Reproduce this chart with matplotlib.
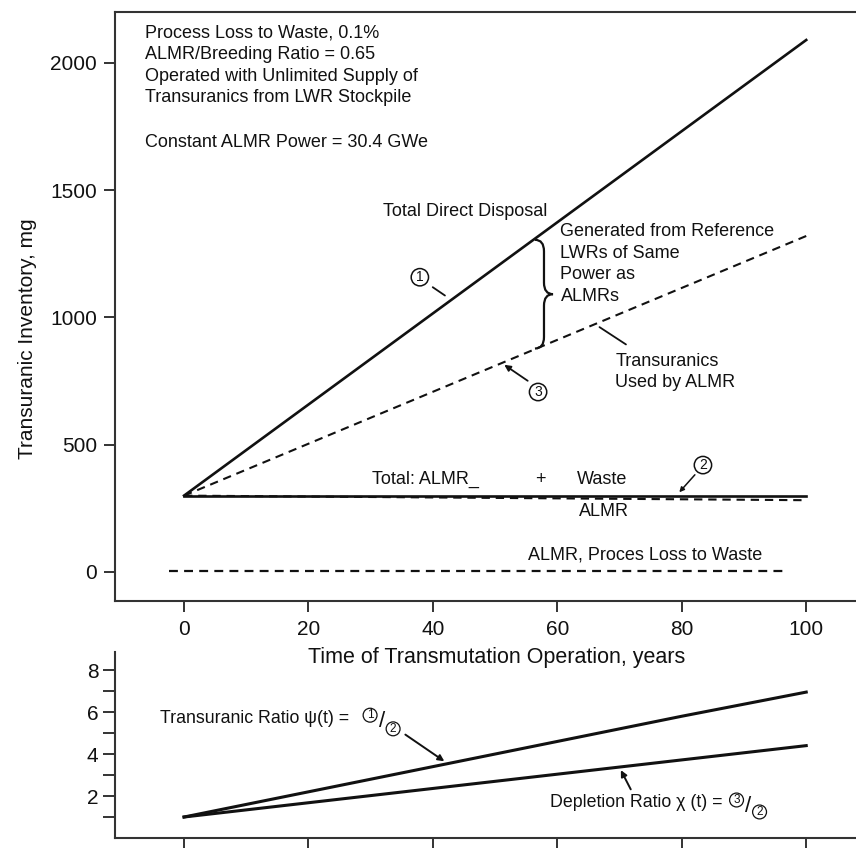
import numpy as np
import matplotlib
matplotlib.use('Agg')
import matplotlib.pyplot as plt
from matplotlib.path import Path
from matplotlib.patches import PathPatch

plt.rcParams['font.family'] = ['Liberation Sans', 'DejaVu Sans']

# data
years = [0, 100]
direct_disposal = [300, 2090]      # (1) total direct disposal
almr_plus_waste = [300, 300]       # (2) total ALMR + waste
used_by_almr = [300, 1320]         # (3) transuranics used by ALMR
almr_only = [300, 282]
loss_years = [-2.5, 97]
loss_to_waste = [5, 5]

ratio_years = [0, 20, 40, 60, 80, 100]
psi_ratio = [1.0, 2.2, 3.4, 4.6, 5.8, 6.95]
chi_ratio = [1.0, 1.68, 2.36, 3.04, 3.72, 4.4]

x_ticks = [0, 20, 40, 60, 80, 100]
y_ticks = [0, 500, 1000, 1500, 2000]

W, H = 856, 848
fig = plt.figure(figsize=(W / 100, H / 100), dpi=100)
ink = '#111111'
spine_col = '#333333'
dash = (0, (4, 2.8))

# ratio panel first, so the main panel's x label sits on top of it
ax2 = fig.add_axes([115 / W, 1 - 838 / H, (856 - 115) / W, (838 - 652) / H])
ax2.patch.set_visible(False)

# main panel
ax = fig.add_axes([115 / W, 1 - 601 / H, (856 - 115) / W, (601 - 12) / H])
ax.patch.set_visible(False)
ax.plot(years, direct_disposal, color=ink, lw=1.9)
ax.plot(years, almr_plus_waste, color=ink, lw=1.9)
ax.plot(years, used_by_almr, color=ink, lw=1.5, linestyle=dash)
ax.plot(years, almr_only, color=ink, lw=1.5, linestyle=dash)
ax.plot(loss_years, loss_to_waste, color=ink, lw=1.6, linestyle=dash)

ax.set_xlim(-11.1, 108.0)
ax.set_ylim(-114, 2200)
ax.set_xticks(x_ticks)
ax.set_yticks(y_ticks)
ax.spines['right'].set_visible(False)
for s in ['left', 'top', 'bottom']:
    ax.spines[s].set_linewidth(1.5)
    ax.spines[s].set_color(spine_col)
ax.tick_params(axis='both', direction='out', length=8, width=1.4,
               color=spine_col, labelsize=15, labelcolor=ink)
ax.tick_params(axis='x', pad=6)
ax.tick_params(axis='y', pad=5)
ax.set_ylabel('Transuranic Inventory, mg', fontsize=15, color=ink)
ax.yaxis.set_label_coords(-0.105, 0.445)
ax.set_xlabel('Time of Transmutation Operation, years', fontsize=15.5, color=ink)
ax.xaxis.set_label_coords(0.515, -0.078)

tk = dict(fontsize=13, color=ink, va='center', ha='left')
ax.text(-6.3, 2118, 'Process Loss to Waste, 0.1%', **tk)
ax.text(-6.3, 2032, 'ALMR/Breeding Ratio = 0.65', **tk)
ax.text(-6.3, 1947, 'Operated with Unlimited Supply of', **tk)
ax.text(-6.3, 1863, 'Transuranics from LWR Stockpile', **tk)
ax.text(-6.3, 1686, 'Constant ALMR Power = 30.4 GWe', **tk)

ax.text(32.0, 1415, 'Total Direct Disposal', **tk)
ax.text(60.5, 1336, 'Generated from Reference', **tk)
ax.text(60.5, 1252, 'LWRs of Same', **tk)
ax.text(60.5, 1167, 'Power as', **tk)
ax.text(60.5, 1083, 'ALMRs', **tk)
ax.text(69.3, 825, 'Transuranics', **tk)
ax.text(69.3, 743, 'Used by ALMR', **tk)
ax.text(30.2, 362, 'Total: ALMR_', **tk)
ax.text(56.4, 362, '+', **tk)
ax.text(63.2, 362, 'Waste', **tk)
ax.text(63.4, 236, 'ALMR', **tk)
ax.text(55.3, 67, 'ALMR, Proces Loss to Waste', **tk)

circ = dict(boxstyle='circle,pad=0.12', fc='white', ec=ink, lw=1.1)
ax.text(37.9, 1158, '1', fontsize=10, ha='center', va='center', color=ink, bbox=circ)
ax.text(56.9, 707, '3', fontsize=10, ha='center', va='center', color=ink, bbox=circ)
ax.text(83.4, 420, '2', fontsize=10, ha='center', va='center', color=ink, bbox=circ)

ax.annotate('', xy=(42.3, 1080), xytext=(39.6, 1125),
            arrowprops=dict(arrowstyle='-', color=ink, lw=1.3))
ax.annotate('', xy=(51.1, 820), xytext=(55.6, 745),
            arrowprops=dict(arrowstyle='-|>', color=ink, lw=1.3,
                            mutation_scale=9))
ax.annotate('', xy=(79.3, 305), xytext=(82.4, 390),
            arrowprops=dict(arrowstyle='-|>', color=ink, lw=1.1,
                            mutation_scale=7))
ax.annotate('', xy=(66.4, 968), xytext=(71.4, 888),
            arrowprops=dict(arrowstyle='-', color=ink, lw=1.3))

# curly brace between (1) and (3)
bx, tip, top, bot, r = 56.4, 59.3, 1305, 878, 45
mid = (top + bot) / 2
xm = (bx + tip) / 2
verts = [(bx, top), (xm, top), (xm, top - r),
         (xm, mid + r),
         (xm, mid), (tip, mid),
         (xm, mid), (xm, mid - r),
         (xm, bot + r),
         (xm, bot), (bx, bot)]
codes = [Path.MOVETO, Path.CURVE3, Path.CURVE3,
         Path.LINETO,
         Path.CURVE3, Path.CURVE3,
         Path.CURVE3, Path.CURVE3,
         Path.LINETO,
         Path.CURVE3, Path.CURVE3]
ax.add_patch(PathPatch(Path(verts, codes), fc='none', ec=ink, lw=1.6))

# ratio panel content
ax2.plot(ratio_years, psi_ratio, color=ink, lw=2.2)
ax2.plot(ratio_years, chi_ratio, color=ink, lw=2.2)
ax2.set_xlim(-11.1, 108.0)
ax2.set_ylim(0, 8.86)
ax2.set_xticks(x_ticks)
ax2.set_xticklabels([])
ax2.set_yticks([1, 2, 3, 4, 5, 6, 7, 8])
ax2.set_yticklabels(['', '2', '', '4', '', '6', '', '8'])
ax2.spines['right'].set_visible(False)
ax2.spines['top'].set_visible(False)
for s in ['left', 'bottom']:
    ax2.spines[s].set_linewidth(1.5)
    ax2.spines[s].set_color(spine_col)
ax2.tick_params(axis='both', direction='out', length=9, width=1.4,
                color=spine_col, labelsize=15, labelcolor=ink, pad=3)

lk = dict(fontsize=12.8, color=ink, va='center', ha='left')
ax2.text(-3.9, 5.67, 'Transuranic Ratio \u03c8(t) = ', **lk)
c2 = dict(boxstyle='circle,pad=0.08', fc='white', ec=ink, lw=0.9)
ax2.text(29.9, 5.85, '1', fontsize=8.5, ha='center', va='center', color=ink, bbox=c2)
ax2.text(31.8, 5.55, '/', fontsize=16, ha='center', va='center', color=ink)
ax2.text(33.6, 5.2, '2', fontsize=8.5, ha='center', va='center', color=ink, bbox=c2)
ax2.annotate('', xy=(42.2, 3.58), xytext=(35.2, 5.0),
             arrowprops=dict(arrowstyle='-|>', color=ink, lw=1.4,
                             mutation_scale=9))

ax2.text(58.8, 1.67, 'Depletion Ratio \u03c7 (t) = ', **lk)
ax2.text(88.8, 1.81, '3', fontsize=8.5, ha='center', va='center', color=ink, bbox=c2)
ax2.text(90.7, 1.5, '/', fontsize=16, ha='center', va='center', color=ink)
ax2.text(92.5, 1.24, '2', fontsize=8.5, ha='center', va='center', color=ink, bbox=c2)
ax2.annotate('', xy=(70.0, 3.35), xytext=(72.0, 2.2),
             arrowprops=dict(arrowstyle='-|>', color=ink, lw=1.4,
                             mutation_scale=9))

fig.savefig('out.png', dpi=100)
